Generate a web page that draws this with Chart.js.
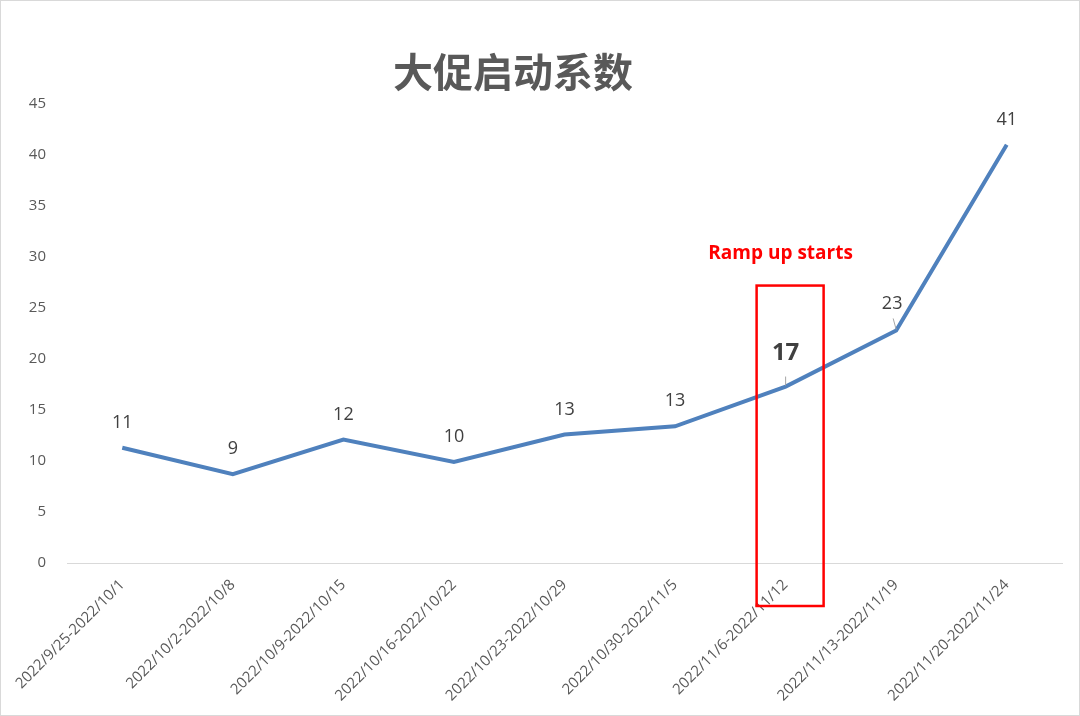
<!DOCTYPE html>
<html>
<head>
<meta charset="utf-8">
<script src="https://cdn.jsdelivr.net/npm/chart.js@4.4.0/dist/chart.umd.min.js"></script>
<style>
  html, body { margin: 0; padding: 0; background: #fff; }
  #wrap { width: 1078px; height: 714px; border: 1px solid #d9d9d9; position: relative; }
  canvas { display: block; }
</style>
</head>
<body>
<div id="wrap"><canvas id="c" width="1078" height="714"></canvas></div>
<script>
const chartTitle = '大促启动系数';
const categories = [
  '2022/9/25-2022/10/1',
  '2022/10/2-2022/10/8',
  '2022/10/9-2022/10/15',
  '2022/10/16-2022/10/22',
  '2022/10/23-2022/10/29',
  '2022/10/30-2022/11/5',
  '2022/11/6-2022/11/12',
  '2022/11/13-2022/11/19',
  '2022/11/20-2022/11/24'
];
const values = [11.3, 8.7, 12.1, 9.9, 12.6, 13.4, 17.3, 22.8, 41.0];
const valueLabels = ['11', '9', '12', '10', '13', '13', '17', '23', '41'];
const yTicks = [0, 5, 10, 15, 20, 25, 30, 35, 40, 45];
const highlightIndex = 6;
const highlightTopValue = 27.2;
const annotationText = 'Ramp up starts';

const overlay = {
  id: 'overlay',
  afterDatasetsDraw(chart) {
    const ctx = chart.ctx;
    const meta = chart.getDatasetMeta(0);
    const xs = chart.scales.x, ys = chart.scales.y;
    ctx.save();
    meta.data.forEach((pt, i) => {
      const bold = i === highlightIndex;
      ctx.font = (bold ? 'bold 24px ' : '18px ') + '"Open Sans", "Noto Sans", sans-serif';
      ctx.fillStyle = '#404040';
      ctx.textAlign = 'center';
      ctx.textBaseline = 'middle';
      let dy = bold ? 33 : 25;
      let dx = 0;
      if (i === 7) { dx = -4; dy = 27; }
      ctx.fillText(valueLabels[i], pt.x + dx, pt.y - dy);
      if (i === highlightIndex || i === 7) {
        ctx.strokeStyle = '#a6a6a6';
        ctx.lineWidth = 1;
        ctx.beginPath();
        ctx.moveTo(pt.x + (i === 7 ? -3 : 0), pt.y - (i === 7 ? 12 : 10));
        ctx.lineTo(pt.x, pt.y - 1);
        ctx.stroke();
      }
    });
    const cx = xs.getPixelForValue(highlightIndex);
    const top = ys.getPixelForValue(highlightTopValue);
    const bottom = chart.chartArea.bottom + 43;
    ctx.strokeStyle = '#ff0000';
    ctx.lineWidth = 2.5;
    ctx.strokeRect(cx - 29, top, 67, bottom - top);
    ctx.font = 'bold 19px "Open Sans", "Noto Sans", sans-serif';
    ctx.fillStyle = '#ff0000';
    ctx.textAlign = 'center';
    ctx.textBaseline = 'middle';
    ctx.fillText(annotationText, cx - 5, top - 32);
    ctx.font = 'bold 40px "Noto Sans CJK SC", sans-serif';
    ctx.fillStyle = '#595959';
    ctx.fillText(chartTitle, 512, 71);
    ctx.restore();
  }
};

new Chart(document.getElementById('c'), {
  type: 'line',
  data: {
    labels: categories,
    datasets: [{
      data: values,
      borderColor: '#4f81bd',
      borderWidth: 4,
      pointRadius: 0,
      tension: 0,
      fill: false
    }]
  },
  options: {
    responsive: false,
    animation: false,
    layout: { padding: { top: 103, right: 17, left: 0, bottom: 0 } },
    plugins: { legend: { display: false }, tooltip: { enabled: false } },
    scales: {
      x: {
        offset: true,
        grid: { display: false, drawTicks: false },
        border: { display: true, color: '#d9d9d9', width: 1 },
        ticks: {
          color: '#595959',
          font: { size: 15, family: '"Open Sans", "Noto Sans", sans-serif' },
          maxRotation: 45, minRotation: 45, autoSkip: false, padding: 13
        },
        afterFit(s) { s.height = 152; }
      },
      y: {
        min: 0, max: 45,
        afterBuildTicks(s) { s.ticks = yTicks.map(v => ({ value: v })); },
        grid: { display: false, drawTicks: false },
        border: { display: false },
        ticks: {
          color: '#595959',
          font: { size: 15, family: '"Open Sans", "Noto Sans", sans-serif' },
          padding: 21
        },
        afterFit(s) { s.width = 66; }
      }
    }
  },
  plugins: [overlay]
});
</script>
</body>
</html>
